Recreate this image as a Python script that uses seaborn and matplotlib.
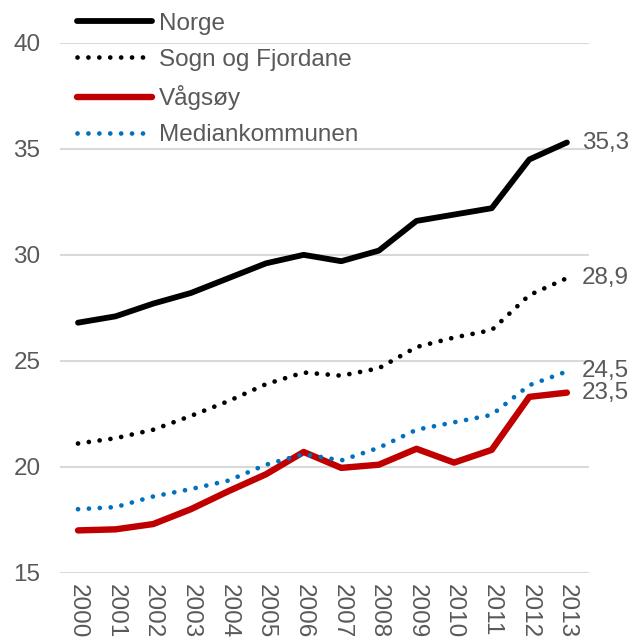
import matplotlib
matplotlib.use("Agg")
import matplotlib.pyplot as plt
import seaborn as sns
import pandas as pd

years = list(range(2000, 2014))
norge = [26.8, 27.1, 27.7, 28.2, 28.9, 29.6, 30.0, 29.7, 30.2, 31.6, 31.9, 32.2, 34.5, 35.3]
sogn_og_fjordane = [21.1, 21.35, 21.75, 22.4, 23.1, 23.9, 24.45, 24.3, 24.65, 25.65, 26.1, 26.45, 28.1, 28.9]
vagsoy = [17.0, 17.05, 17.3, 18.0, 18.85, 19.65, 20.7, 19.95, 20.1, 20.85, 20.2, 20.8, 23.3, 23.5]
median_kommune = [18.0, 18.1, 18.6, 18.95, 19.35, 20.1, 20.6, 20.3, 20.9, 21.75, 22.1, 22.45, 23.85, 24.5]

series_names = ["Norge", "Sogn og Fjordane", "Vågsøy", "Mediankommunen"]
series_values = [norge, sogn_og_fjordane, vagsoy, median_kommune]
end_labels = ["35,3", "28,9", "24,5", "23,5"]

sns.set_style("white")
plt.rcParams["font.family"] = ["Liberation Sans", "DejaVu Sans"]

text_color = "#595959"
grid_color = "#D9D9D9"
fs = 17.5

fig = plt.figure(figsize=(6.31, 6.40), dpi=100)
ax = fig.add_axes([0.095, 0.105, 0.838, 0.828])

styles = {
    "Norge": dict(color="black", lw=4.2, ls="-", solid_capstyle="round"),
    "Sogn og Fjordane": dict(color="black", lw=3.4, ls=(0, (0.01, 2.3)), dash_capstyle="round"),
    "Vågsøy": dict(color="#C00000", lw=4.6, ls="-", solid_capstyle="round"),
    "Mediankommunen": dict(color="#0070C0", lw=3.4, ls=(0, (0.01, 2.3)), dash_capstyle="round"),
}

for name, vals in zip(series_names, series_values):
    df = pd.DataFrame({"År": years, "Verdi": vals})
    st = styles[name]
    sns.lineplot(data=df, x="År", y="Verdi", ax=ax, label=name,
                 color=st["color"], linewidth=st["lw"], linestyle=st["ls"])
    line = ax.lines[-1]
    if "solid_capstyle" in st:
        line.set_solid_capstyle(st["solid_capstyle"])
        line.set_solid_joinstyle("round")
    if "dash_capstyle" in st:
        line.set_dash_capstyle(st["dash_capstyle"])

# Value labels at the last year of each series
label_values = {"35,3": norge[-1], "28,9": sogn_og_fjordane[-1],
                "24,5": median_kommune[-1], "23,5": vagsoy[-1]}
for txt in end_labels:
    ax.annotate(txt, xy=(years[-1], label_values[txt]), xytext=(11, 0),
                textcoords="offset points", ha="left", va="center",
                fontsize=fs, color=text_color, annotation_clip=False)

ax.set_xlim(1999.52, 2013.58)
ax.set_ylim(15, 40)
ax.set_yticks([15, 20, 25, 30, 35, 40])
ax.set_xticks(years)
ax.set_xticklabels([str(y) for y in years], rotation=-90)
ax.set_xlabel("")
ax.set_ylabel("")
ax.tick_params(axis="both", length=0, labelsize=fs, labelcolor=text_color)
ax.tick_params(axis="x", pad=8)
ax.tick_params(axis="y", pad=14)

ax.yaxis.grid(True, color=grid_color, linewidth=1.5)
ax.xaxis.grid(False)
ax.set_axisbelow(True)
for side in ["left", "right", "top", "bottom"]:
    ax.spines[side].set_visible(False)

leg = ax.legend(loc="upper left", bbox_to_anchor=(0.013, 1.075), frameon=False,
                fontsize=fs, handlelength=3.1, handletextpad=0.3,
                labelspacing=0.58, borderaxespad=0)
for t in leg.get_texts():
    t.set_color(text_color)

fig.savefig("out.png", dpi=100)
